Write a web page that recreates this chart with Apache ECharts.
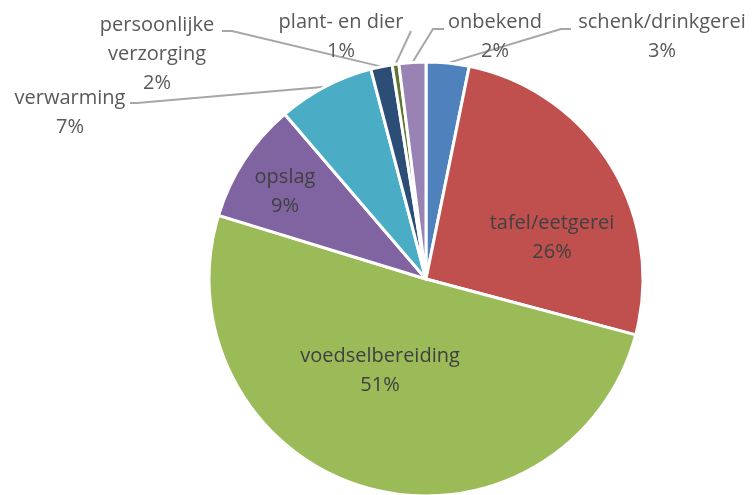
<!DOCTYPE html>
<html>
<head>
<meta charset="utf-8">
<script src="https://cdn.jsdelivr.net/npm/echarts@6/dist/echarts.min.js"></script>
<style>
  html, body { margin: 0; padding: 0; background: #fff; }
  #chart { width: 752px; height: 495px; }
</style>
</head>
<body>
<div id="chart"></div>
<script>
// categorieën en aandelen (in %)
const categories = ['schenk/drinkgerei', 'tafel/eetgerei', 'voedselbereiding', 'opslag',
  'verwarming', 'persoonlijke\nverzorging', 'plant- en dier', 'onbekend']
const shares = [3.2, 26, 50.7, 9, 7.2, 1.6, 0.5, 2]
const colors = ['#4F81BD', '#C0504D', '#9BBB59', '#8064A2', '#4BACC6', '#2C4D75', '#5F7530', '#9983B5']

// label plaatsing (midden van het tekstblok) en knikpunten van de verbindingslijnen
const insideIdx = [1, 2, 3]
const labelPos = [[662, 37], [552, 238], [380, 371], [285, 192], [70, 113], [157, 54], [341, 37], [495, 37]]
const linePts = {
  0: [[561, 29], [571, 29]],
  4: [[137, 103], [130, 103]],
  5: [[232, 31], [222, 31]],
  6: [[411, 31]],
  7: [[433, 29], [444, 29]]
}

const cx = 426
const cy = 279
const radius = 217

const total = shares.reduce((a, b) => a + b, 0)
// punt op de rand midden in een segment
const edgePoint = (idx) => {
  let before = 0
  for (let i = 0; i < idx; i++) before += shares[i]
  const ang = (before + shares[idx] / 2) / total * Math.PI * 2
  return [cx + radius * Math.sin(ang), cy - radius * Math.cos(ang)]
}

const chart = echarts.init(document.getElementById('chart'))

const option = {
  animation: false,
  series: [
    {
      type: 'pie',
      center: [cx, cy],
      radius: radius,
      startAngle: 90,
      clockwise: true,
      itemStyle: { borderColor: '#fff', borderWidth: 3 },
      label: {
        fontFamily: 'Open Sans',
        fontSize: 20,
        lineHeight: 29,
        color: '#595959',
        align: 'center',
        formatter: (p) => p.name + '\n' + Math.round(p.value) + '%'
      },
      labelLine: {
        show: true,
        lineStyle: { color: '#A6A6A6', width: 2 }
      },
      labelLayout: (params) => {
        const i = params.dataIndex
        const res = {
          x: labelPos[i][0],
          y: labelPos[i][1],
          align: 'center',
          verticalAlign: 'middle'
        }
        if (linePts[i]) {
          res.labelLinePoints = [edgePoint(i)].concat(linePts[i])
        }
        return res
      },
      data: categories.map((name, i) => {
        const inside = insideIdx.includes(i)
        return {
          name: name,
          value: shares[i],
          itemStyle: { color: colors[i] },
          label: inside ? { position: 'inside', color: '#404040' } : { position: 'outside' },
          labelLine: { show: !inside }
        }
      })
    }
  ]
}

chart.setOption(option)
</script>
</body>
</html>
